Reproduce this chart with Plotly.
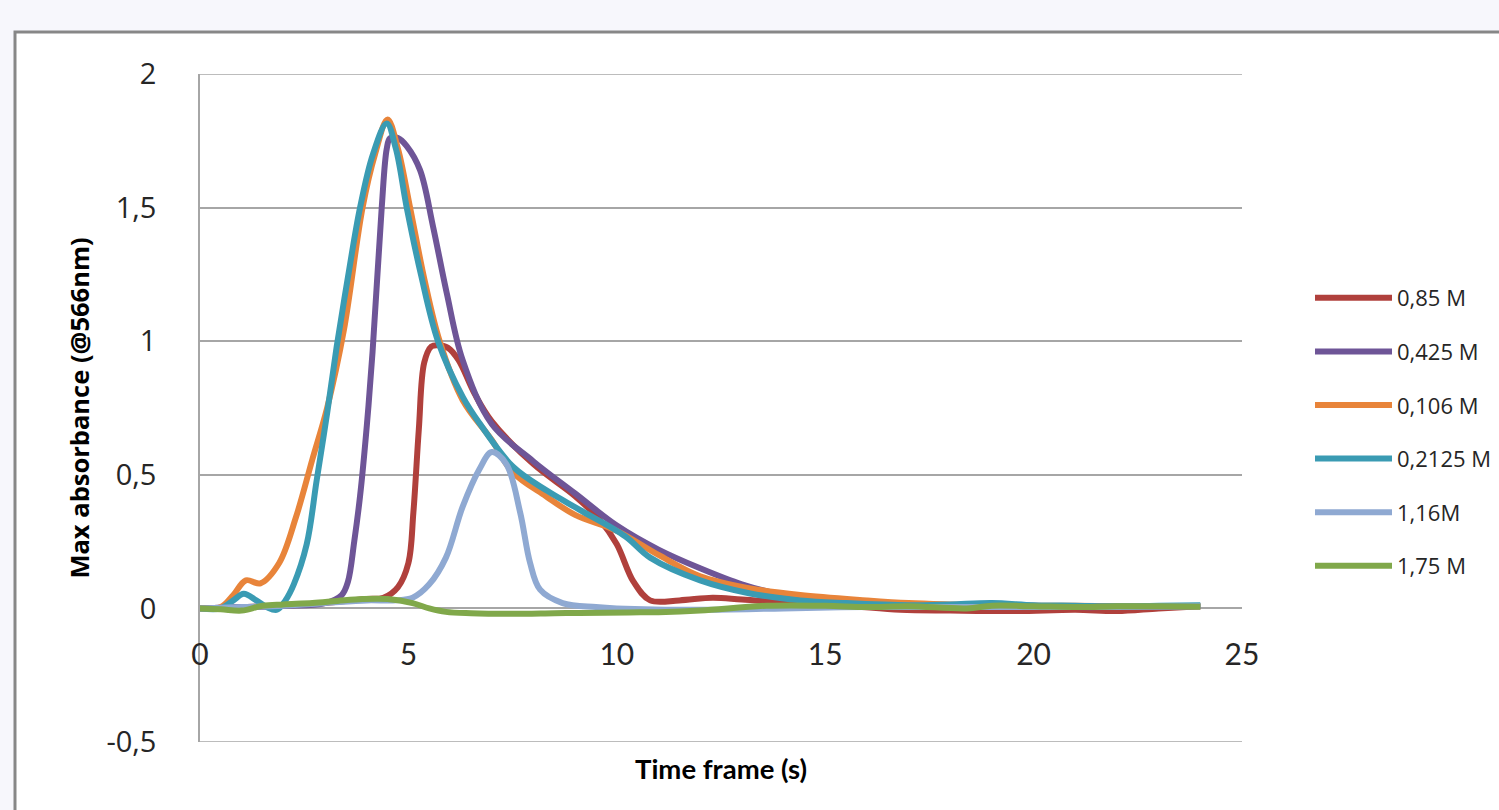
import plotly.graph_objects as go

# ---------------- data ----------------
series_names = ["0,85 M", "0,425 M", "0,106 M", "0,2125 M", "1,16M", "1,75 M"]

red_t = [0, 1, 2, 3, 4, 4.4, 4.75, 5.0, 5.12, 5.25, 5.38, 5.55, 5.7, 5.95, 6.2, 6.6, 7, 8, 9, 9.6,
         10.0, 10.4, 10.8, 11.5, 12.3, 13, 14.4, 15.5, 16.8, 18, 19.6, 21, 22, 23, 24]
red_v = [0, 0.005, 0.01, 0.02, 0.035, 0.04, 0.08, 0.17, 0.36, 0.67, 0.92, 0.98, 0.985, 0.975, 0.93, 0.8, 0.7,
         0.54, 0.42, 0.33, 0.24, 0.1, 0.03, 0.03, 0.04, 0.033, 0.018, 0.01, -0.005, -0.008, -0.01, -0.005,
         -0.01, 0.0, 0.008]

purple_t = [0, 1, 2, 3, 3.4, 3.55, 3.7, 3.84, 4.0, 4.14, 4.36, 4.48, 4.56, 4.75, 4.96, 5.28, 5.59,
            5.92, 6.3, 7, 8, 9, 10, 11, 12, 13, 14, 15, 16, 17, 18, 19, 20, 21, 22, 23, 24]
purple_v = [0, 0.005, 0.01, 0.02, 0.05, 0.1, 0.25, 0.42, 0.68, 0.96, 1.5, 1.72, 1.76, 1.76, 1.73,
            1.64, 1.43, 1.18, 0.93, 0.69, 0.55, 0.43, 0.31, 0.22, 0.15, 0.09, 0.05, 0.03, 0.02, 0.015,
            0.01, 0.01, 0.01, 0.005, 0.005, 0.005, 0.008]

orange_t = [0, 0.5, 0.8, 1.1, 1.45, 1.9, 2.3, 2.7, 3.05, 3.45, 3.9, 4.2, 4.5, 4.75, 5.04, 5.4, 5.75,
            6.3, 7, 7.5, 8.3, 9, 10, 11, 12, 13.2, 14.4, 16, 17, 18, 19, 20, 21, 22, 23, 24]
orange_v = [0, 0.005, 0.05, 0.105, 0.094, 0.17, 0.34, 0.56, 0.75, 1.04, 1.5, 1.7, 1.83, 1.72, 1.5, 1.22,
            1.0, 0.78, 0.63, 0.51, 0.42, 0.35, 0.29, 0.2, 0.12, 0.075, 0.05, 0.03, 0.02, 0.015, 0.012,
            0.01, 0.01, 0.008, 0.008, 0.008]

teal_t = [0, 0.5, 0.8, 1.05, 1.35, 1.6, 1.85, 2.05, 2.25, 2.56, 2.8, 3.05, 3.28, 3.55, 3.84, 4.15, 4.48,
          4.7, 4.96, 5.3, 5.71, 6.31, 6.72, 7.51, 8.33, 9.1, 10.2, 10.8, 12, 13.2, 14.4, 15.5, 17, 18, 19,
          20, 21, 22, 23, 24]
teal_v = [0, 0.0, 0.03, 0.055, 0.03, 0.005, -0.005, 0.03, 0.09, 0.24, 0.48, 0.73, 0.98, 1.24, 1.5, 1.7,
          1.815, 1.72, 1.5, 1.25, 1.0, 0.79, 0.69, 0.53, 0.44, 0.37, 0.27, 0.19, 0.105, 0.056, 0.03, 0.02,
          0.012, 0.015, 0.02, 0.012, 0.01, 0.008, 0.01, 0.012]

lightblue_t = [0, 1, 2, 3, 4, 4.7, 5.1, 5.5, 5.9, 6.3, 6.7, 7.0, 7.35, 7.68, 7.92, 8.16, 8.7, 9.5, 10,
               12, 14, 16, 18, 20, 22, 24]
lightblue_v = [0, 0.005, 0.01, 0.02, 0.03, 0.03, 0.04, 0.09, 0.19, 0.38, 0.52, 0.585, 0.54, 0.36, 0.17,
               0.07, 0.02, 0.005, 0.0, -0.005, 0.0, 0.005, 0.005, 0.005, 0.005, 0.008]

green_t = [0, 0.5, 1.0, 1.5, 2.0, 2.7, 3.3, 3.9, 4.5, 5.1, 5.5, 5.9, 6.5, 7.5, 8.5, 9.1, 10.3, 11, 12,
           13.6, 15, 16, 17, 18.4, 19, 20, 21.1, 22, 23, 24]
green_v = [0, -0.003, -0.008, 0.01, 0.015, 0.02, 0.028, 0.035, 0.035, 0.02, 0.0, -0.013, -0.018, -0.02,
           -0.018, -0.017, -0.015, -0.014, -0.008, 0.01, 0.01, 0.005, 0.008, 0.0, 0.01, 0.008, 0.005,
           0.008, 0.008, 0.006]

x_tickvals = [0, 5, 10, 15, 20, 25]
y_tickvals = [-0.5, 0, 0.5, 1, 1.5, 2]
y_ticktext = ["-0,5", "0", "0,5", "1", "1,5", "2"]

colors = ["#b0403c", "#6e5597", "#e8843a", "#3a9bb3", "#8fa9d2", "#80a84a"]

# ---------------- figure ----------------
all_t = [red_t, purple_t, orange_t, teal_t, lightblue_t, green_t]
all_v = [red_v, purple_v, orange_v, teal_v, lightblue_v, green_v]

fig = go.Figure()
for i, (name, t, v, c) in enumerate(zip(series_names, all_t, all_v, colors)):
    fig.add_trace(go.Scatter(
        x=t, y=v, name=name, mode="lines",
        line=dict(color=c, width=6, shape="spline", smoothing=1.0),
        legendgroup=f"g{i}",
    ))

grid_col = "#a6a6a6"
W, H = 1499, 810
L, R, T, B = 200, 257, 74, 68
pw, ph = W - L - R, H - T - B

def px_x(p):
    return (p - L) / pw

def px_y(p):
    return (H - B - p) / ph

fig.update_layout(
    width=W, height=H,
    margin=dict(l=L, r=R, t=T, b=B, pad=0, autoexpand=False),
    paper_bgcolor="#f7f7fc",
    plot_bgcolor="#ffffff",
    showlegend=True,
    legend=dict(
        x=px_x(1310), y=px_y(432), xanchor="left", yanchor="middle",
        font=dict(family="Open Sans", size=22, color="#262626"),
        bgcolor="rgba(0,0,0,0)", tracegroupgap=22, itemwidth=77,
    ),
    xaxis=dict(
        range=[0, 25], tickvals=x_tickvals, anchor="free", position=0.2,
        showline=False, showgrid=False, zeroline=False, ticks="",
        ticklabelstandoff=26,
        tickfont=dict(family="Lato", size=30, color="#262626"),
    ),
    yaxis=dict(
        range=[-0.5, 2], tickvals=y_tickvals, ticktext=y_ticktext,
        showgrid=True, gridcolor=grid_col, gridwidth=1.5,
        showline=True, linecolor=grid_col, linewidth=1.5,
        zeroline=False, ticks="", ticklabelstandoff=36,
        tickfont=dict(family="Open Sans", size=29, color="#262626"),
        title=dict(text="<b>Max absorbance (@566nm)</b>", standoff=10,
                   font=dict(family="Open Sans", size=25.5, color="#000000")),
    ),
    shapes=[
        dict(type="rect", xref="paper", yref="paper", layer="below",
             x0=px_x(15), x1=px_x(1520), y0=px_y(830), y1=px_y(32),
             fillcolor="#ffffff", line=dict(color="#878787", width=3)),
        dict(type="line", xref="paper", yref="y", x0=0, x1=1, y0=-0.5, y1=-0.5,
             line=dict(color=grid_col, width=1.5)),
        dict(type="line", xref="paper", yref="y", x0=0, x1=1, y0=2, y1=2,
             line=dict(color=grid_col, width=1.5), layer="below"),
    ],
    annotations=[
        dict(text="<b>Time frame (s)</b>", xref="paper", yref="paper",
             x=px_x(721), y=px_y(768), xanchor="center", yanchor="middle",
             showarrow=False, font=dict(family="Lato", size=27.5, color="#000000")),
    ],
)

fig.write_html("out.html", config={"displayModeBar": False},
               post_script="document.body.style.margin='0';document.body.style.overflow='hidden';")
